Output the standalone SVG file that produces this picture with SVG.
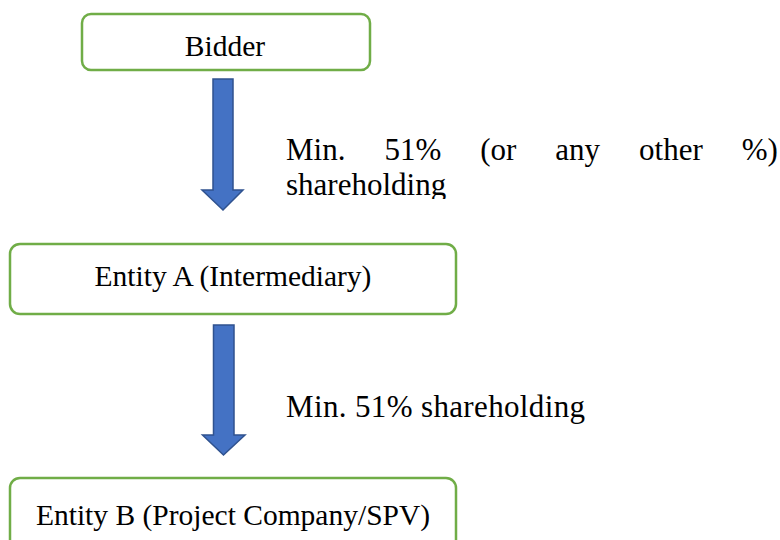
<svg xmlns="http://www.w3.org/2000/svg" width="780" height="540" viewBox="0 0 780 540">
<style>
.box{fill:#fff;stroke:#70AD47;stroke-width:2.5}
.arrow{fill:#4472C4;stroke:#2F528F;stroke-width:1.5;stroke-linejoin:miter}
text{font-family:'Liberation Serif','DejaVu Serif',serif;fill:#000}
.bt{font-size:29.5px;text-anchor:middle}
.lt{font-size:31px}
</style>
<defs>
<clipPath id="clip1"><rect x="280" y="120" width="500" height="79"/></clipPath>
</defs>
<rect width="780" height="540" fill="#fff"/>
<g id="connectors">
<path class="arrow" d="M213,79 H233 V190 H243 L223,210 L202,190 H213 Z"/>
<path class="arrow" d="M213.5,325 H234 V435 H245 L223.5,455 L202.5,435 H213.5 Z"/>
<g clip-path="url(#clip1)">
<text class="lt" x="286" y="159.5">Min.</text>
<text class="lt" x="384.4" y="159.5">51%</text>
<text class="lt" x="480.2" y="159.5">(or</text>
<text class="lt" x="555.3" y="159.5">any</text>
<text class="lt" x="639.1" y="159.5">other</text>
<text class="lt" x="741.8" y="159.5">%)</text>
<text class="lt" x="286" y="195">shareholding</text>
</g>
<text class="lt" x="286" y="417.3" textLength="299" lengthAdjust="spacing">Min. 51% shareholding</text>
</g>
<g id="bidder">
<rect class="box" x="82" y="14" width="288" height="56" rx="9"/>
<text class="bt" x="225" y="55.5">Bidder</text>
</g>
<g id="entityA">
<rect class="box" x="10" y="244" width="446" height="70" rx="10"/>
<text class="bt" x="233" y="286">Entity A (Intermediary)</text>
</g>
<g id="entityB">
<rect class="box" x="10" y="478" width="446" height="80" rx="10"/>
<text class="bt" x="233" y="525">Entity B (Project Company/SPV)</text>
</g>
</svg>
